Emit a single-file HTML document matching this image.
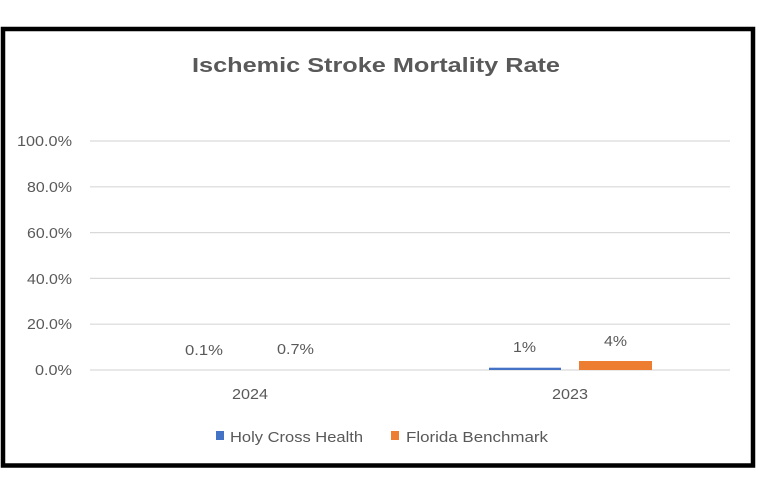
<!DOCTYPE html>
<html>
<head>
<meta charset="utf-8">
<style>
html,body{margin:0;padding:0;background:#fff;}
svg{display:block;}
text{font-family:"Liberation Sans",sans-serif;fill:#595959;}
</style>
</head>
<body>
<svg width="761" height="488" viewBox="0 0 761 488" xmlns="http://www.w3.org/2000/svg">
<rect x="0" y="0" width="761" height="488" fill="#fff"/>
<!-- outer border -->
<rect x="3" y="29" width="750" height="436.5" fill="none" stroke="#000" stroke-width="4.5"/>
<!-- title -->
<text x="192" y="72" font-size="20.5" font-weight="bold" textLength="368" lengthAdjust="spacingAndGlyphs">Ischemic Stroke Mortality Rate</text>
<!-- gridlines -->
<g stroke="#d9d9d9" stroke-width="1.2">
<line x1="90" y1="141" x2="730" y2="141"/>
<line x1="90" y1="186.8" x2="730" y2="186.8"/>
<line x1="90" y1="232.6" x2="730" y2="232.6"/>
<line x1="90" y1="278.4" x2="730" y2="278.4"/>
<line x1="90" y1="324.2" x2="730" y2="324.2"/>
<line x1="90" y1="370" x2="730" y2="370"/>
</g>
<!-- y tick labels -->
<g font-size="14.5">
<text x="17" y="146" textLength="55" lengthAdjust="spacingAndGlyphs">100.0%</text>
<text x="27" y="192" textLength="45" lengthAdjust="spacingAndGlyphs">80.0%</text>
<text x="27" y="238" textLength="45" lengthAdjust="spacingAndGlyphs">60.0%</text>
<text x="27" y="284" textLength="45" lengthAdjust="spacingAndGlyphs">40.0%</text>
<text x="27" y="329" textLength="45" lengthAdjust="spacingAndGlyphs">20.0%</text>
<text x="35" y="375" textLength="37" lengthAdjust="spacingAndGlyphs">0.0%</text>
</g>
<!-- bars -->
<rect x="489" y="367.7" width="72" height="2.3" fill="#4472c4"/>
<rect x="579" y="361" width="73" height="9" fill="#ed7d31"/>
<!-- data labels -->
<g font-size="14.5">
<text x="185" y="355" textLength="38" lengthAdjust="spacingAndGlyphs">0.1%</text>
<text x="277" y="354" textLength="37" lengthAdjust="spacingAndGlyphs">0.7%</text>
<text x="513" y="352" textLength="23" lengthAdjust="spacingAndGlyphs">1%</text>
<text x="604" y="346" textLength="23" lengthAdjust="spacingAndGlyphs">4%</text>
</g>
<!-- category labels -->
<g font-size="14.5">
<text x="232" y="399" textLength="36" lengthAdjust="spacingAndGlyphs">2024</text>
<text x="552" y="399" textLength="36" lengthAdjust="spacingAndGlyphs">2023</text>
</g>
<!-- legend -->
<rect x="216" y="431" width="8" height="9" fill="#4472c4"/>
<text x="230" y="442" font-size="14.5" textLength="133" lengthAdjust="spacingAndGlyphs">Holy Cross Health</text>
<rect x="391" y="431" width="8" height="9" fill="#ed7d31"/>
<text x="406" y="442" font-size="14.5" textLength="142" lengthAdjust="spacingAndGlyphs">Florida Benchmark</text>
</svg>
</body>
</html>
